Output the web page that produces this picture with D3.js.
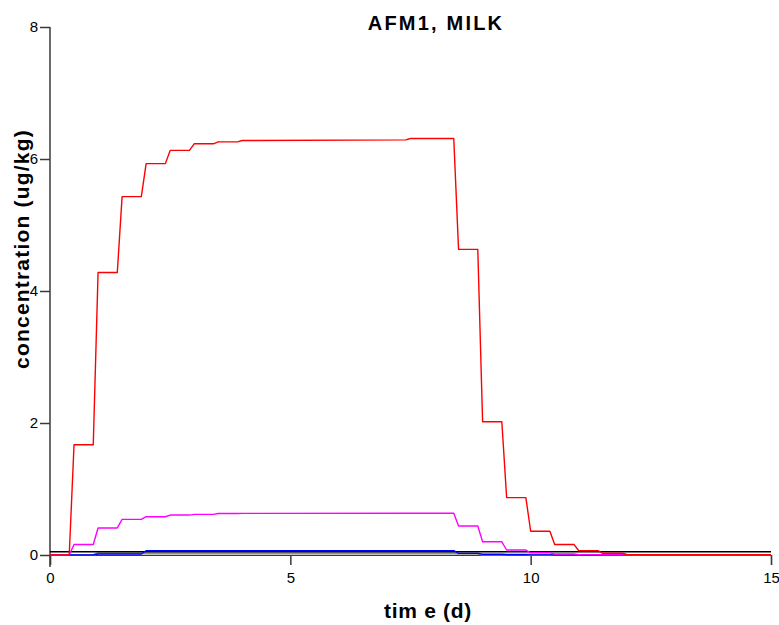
<!DOCTYPE html>
<html>
<head>
<meta charset="utf-8">
<script src="https://cdn.jsdelivr.net/npm/d3@7"></script>
<style>
  html, body { margin: 0; padding: 0; background: #fff; }
  svg { display: block; font-family: "Liberation Sans", Arial, sans-serif; }
</style>
</head>
<body>
<svg id="chart" width="779" height="625"></svg>
<script>
// ---- data ----
const times   = [0, 0.4, 0.5, 0.9, 1.0, 1.4, 1.5, 1.9, 2.0, 2.4, 2.5, 2.9, 3.0, 3.4, 3.5, 3.9, 4.0, 7.4, 7.5, 8.4, 8.5, 8.9, 9.0, 9.4, 9.5, 9.9, 10.0, 10.4, 10.5, 10.9, 11.0, 11.4, 11.5, 11.9, 12.0, 15];
const red     = [0, 0, 1.67, 1.67, 4.28, 4.28, 5.43, 5.43, 5.93, 5.93, 6.13, 6.13, 6.23, 6.23, 6.26, 6.26, 6.28, 6.29, 6.31, 6.31, 4.63, 4.63, 2.02, 2.02, 0.87, 0.87, 0.36, 0.36, 0.16, 0.16, 0.065, 0.065, 0.026, 0.026, 0.008, 0.003];
const magenta = [0, 0, 0.16, 0.16, 0.41, 0.41, 0.54, 0.54, 0.58, 0.58, 0.605, 0.605, 0.615, 0.615, 0.628, 0.628, 0.63, 0.632, 0.633, 0.633, 0.44, 0.44, 0.20, 0.20, 0.076, 0.076, 0.033, 0.033, 0.015, 0.015, 0.006, 0.006, 0.003, 0.003, 0.001, 0];
const blue    = [0, 0, 0, 0, 0.015, 0.015, 0.015, 0.015, 0.065, 0.065, 0.065, 0.065, 0.065, 0.065, 0.065, 0.065, 0.065, 0.065, 0.065, 0.065, 0.025, 0.025, 0.01, 0.01, 0.004, 0.004, 0.002, 0.002, 0.001, 0.001, 0, 0, 0, 0, 0, 0];
const gray    = [0, 0, 0, 0, 0.025, 0.025, 0.025, 0.025, 0.025, 0.025, 0.025, 0.025, 0.025, 0.025, 0.025, 0.025, 0.025, 0.025, 0.025, 0.025, 0.02, 0.02, 0.01, 0.01, 0.005, 0.005, 0.002, 0.002, 0, 0, 0, 0, 0, 0, 0, 0];
const limitTimes  = [0, 15];
const limitValues = [0.05, 0.05];
const xTicks = [0, 5, 10, 15];
const yTicks = [0, 2, 4, 6, 8];
const title  = "AFM1, MILK";
const xLabel = "tim e (d)";
const yLabel = "concentration (ug/kg)";

// ---- layout ----
const svg = d3.select("#chart");
const x = d3.scaleLinear().domain([0, 15]).range([50, 771]);
const y = d3.scaleLinear().domain([0, 8]).range([555, 27]);
const axisColor = "#3a3a3a";

// x axis
const gx = svg.append("g").attr("transform", `translate(0,${y(0)})`)
  .call(d3.axisBottom(x).tickValues(xTicks).tickSize(10).tickPadding(7).tickFormat(d3.format("d")));
gx.select(".domain").attr("stroke", axisColor).attr("stroke-width", 1.2);
gx.selectAll(".tick line").attr("stroke", axisColor).attr("stroke-width", 1.5);
gx.selectAll(".tick text").attr("font-size", 15).attr("fill", "#000")
  .attr("font-family", "'Liberation Sans', Arial, sans-serif");

// y axis
const gy = svg.append("g").attr("transform", `translate(${x(0)},0)`)
  .call(d3.axisLeft(y).tickValues(yTicks).tickSize(10).tickPadding(2).tickFormat(d3.format("d")));
gy.select(".domain").remove();
gy.selectAll(".tick line").attr("stroke", axisColor).attr("stroke-width", 1.5);
gy.selectAll(".tick text").attr("font-size", 15).attr("fill", "#000")
  .attr("font-family", "'Liberation Sans', Arial, sans-serif");
svg.append("line")
  .attr("x1", x(0)).attr("x2", x(0))
  .attr("y1", y(8)).attr("y2", y(0) + 12)
  .attr("stroke", axisColor).attr("stroke-width", 1.5);

// series
const line = d3.line().x(d => x(d[0])).y(d => y(d[1]));
const series = [
  { vals: gray, t: times, color: "#909090", w: 2.2 },
  { vals: limitValues, t: limitTimes, color: "#000000", w: 1.4 },
  { vals: blue, t: times, color: "#0000ff", w: 1.4 },
  { vals: magenta, t: times, color: "#ff00ff", w: 1.4 },
  { vals: red, t: times, color: "#ff0000", w: 1.4 }
];
series.forEach(s => {
  svg.append("path")
    .datum(s.t.map((t, i) => [t, s.vals[i]]))
    .attr("fill", "none")
    .attr("stroke", s.color)
    .attr("stroke-width", s.w)
    .attr("stroke-linejoin", "round")
    .attr("d", line);
});

// texts
svg.append("text")
  .attr("x", 436).attr("y", 30)
  .attr("text-anchor", "middle")
  .attr("font-size", 20).attr("font-weight", "bold")
  .attr("letter-spacing", 2.2)
  .text(title);

svg.append("text")
  .attr("x", 428).attr("y", 618)
  .attr("text-anchor", "middle")
  .attr("font-size", 21).attr("font-weight", "bold")
  .attr("letter-spacing", 0.7)
  .text(xLabel);

svg.append("text")
  .attr("transform", "translate(29,249) rotate(-90)")
  .attr("text-anchor", "middle")
  .attr("font-size", 21).attr("font-weight", "bold")
  .attr("letter-spacing", 1.2)
  .text(yLabel);
</script>
</body>
</html>
